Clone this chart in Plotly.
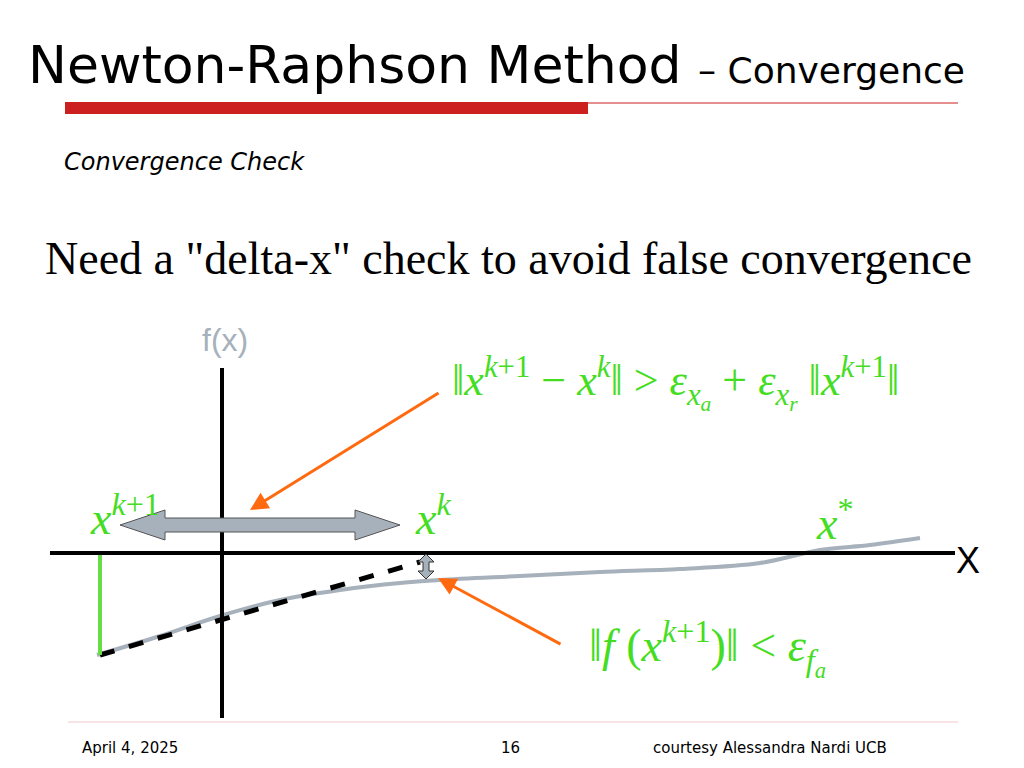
import plotly.graph_objects as go

curve_x = [97, 160, 220, 280, 340, 400, 440, 520, 600, 680, 760, 820, 870, 920]
curve_y = [655, 636, 616, 600, 590, 583, 580, 576, 572, 569, 563, 550, 545, 538]
tangent_x = [100, 420]
tangent_y = [655, 562]

fig = go.Figure()
fig.add_trace(go.Scatter(x=curve_x, y=curve_y, mode="lines", line=dict(color="#a7b1bb", width=4, shape="spline"), hoverinfo="skip"))
fig.add_trace(go.Scatter(x=tangent_x, y=tangent_y, mode="lines", line=dict(color="black", width=5, dash="dash"), hoverinfo="skip"))

shapes = [
    dict(type="rect", x0=65, x1=588, y0=102, y1=114, fillcolor="#cc1f1f", line_width=0),
    dict(type="line", x0=588, x1=958, y0=103, y1=103, line=dict(color="#cc1f1f", width=1)),
    dict(type="line", x0=222, x1=222, y0=368, y1=718, line=dict(color="black", width=4)),
    dict(type="line", x0=50, x1=955, y0=553, y1=553, line=dict(color="black", width=4)),
    dict(type="line", x0=100, x1=100, y0=555, y1=655, line=dict(color="#66dd44", width=4)),
    dict(type="path", path="M120,525 L165,510 L165,518 L355,518 L355,510 L400,525 L355,540 L355,532 L165,532 L165,540 Z",
         fillcolor="#a7b1bb", line=dict(color="#555", width=1)),
    dict(type="path", path="M426,554 L418,562 L423,562 L423,571 L418,571 L426,579 L434,571 L429,571 L429,562 L434,562 Z",
         fillcolor="#a7b1bb", line=dict(color="#333", width=1)),
    dict(type="line", x0=68, x1=958, y0=722, y1=722, line=dict(color="#f0c8c8", width=1)),
]
anns = [
    dict(x=26, y=65, text="Newton-Raphson Method <span style='font-size:36px'>– Convergence</span>", xanchor="left", font=dict(size=52, color="black", family="DejaVu Sans")),
    dict(x=62, y=162, text="<i>Convergence Check</i>", xanchor="left", font=dict(size=24, color="black", family="DejaVu Sans")),
    dict(x=508, y=258, text='Need a "delta-x" check to avoid false convergence', font=dict(size=46, color="black", family="Liberation Serif")),
    dict(x=225, y=340, text="f(x)", font=dict(size=32, color="#a7b1bb", family="Liberation Sans")),
    dict(x=968, y=560, text="X", font=dict(size=36, color="black", family="Liberation Sans")),
    dict(x=675, y=383, text="‖<i>x</i><sup><i>k</i>+1</sup> − <i>x</i><sup><i>k</i></sup>‖ > <i>ε</i><sub><i>x<sub>a</sub></i></sub> + <i>ε</i><sub><i>x<sub>r</sub></i></sub> ‖<i>x</i><sup><i>k</i>+1</sup>‖",
         font=dict(size=44, color="#44dd22", family="Liberation Serif")),
    dict(x=125, y=515, text="<i>x</i><sup><i>k</i>+1</sup>", font=dict(size=46, color="#44dd22", family="Liberation Serif")),
    dict(x=433, y=515, text="<i>x</i><sup><i>k</i></sup>", font=dict(size=46, color="#44dd22", family="Liberation Serif")),
    dict(x=835, y=520, text="<i>x</i><sup>*</sup>", font=dict(size=46, color="#44dd22", family="Liberation Serif")),
    dict(x=707, y=648, text="‖<i>f</i> (<i>x</i><sup><i>k</i>+1</sup>)‖ < <i>ε</i><sub><i>f<sub>a</sub></i></sub>", font=dict(size=46, color="#44dd22", family="Liberation Serif")),
    dict(x=80, y=748, text="April 4, 2025", xanchor="left", font=dict(size=15, color="black", family="DejaVu Sans")),
    dict(x=510, y=748, text="16", font=dict(size=15, color="black", family="DejaVu Sans")),
    dict(x=770, y=748, text="courtesy Alessandra Nardi UCB", font=dict(size=15, color="black", family="DejaVu Sans")),
    dict(x=250, y=510, ax=440, ay=392, axref="x", ayref="y", text="", showarrow=True, arrowhead=2, arrowsize=1.2, arrowwidth=3, arrowcolor="#ff6a10"),
    dict(x=438, y=578, ax=562, ay=645, axref="x", ayref="y", text="", showarrow=True, arrowhead=2, arrowsize=1.2, arrowwidth=3, arrowcolor="#ff6a10"),
]
for a in anns:
    a.setdefault("showarrow", False)
    a["xref"] = "x"; a["yref"] = "y"

fig.update_layout(width=1024, height=768, margin=dict(l=0, r=0, t=0, b=0), showlegend=False,
                  plot_bgcolor="white", paper_bgcolor="white", shapes=shapes, annotations=anns,
                  xaxis=dict(range=[8, 1032], visible=False, fixedrange=True),
                  yaxis=dict(range=[776, 8], visible=False, fixedrange=True))
fig.write_html("out.html", config={"displayModeBar": False})
